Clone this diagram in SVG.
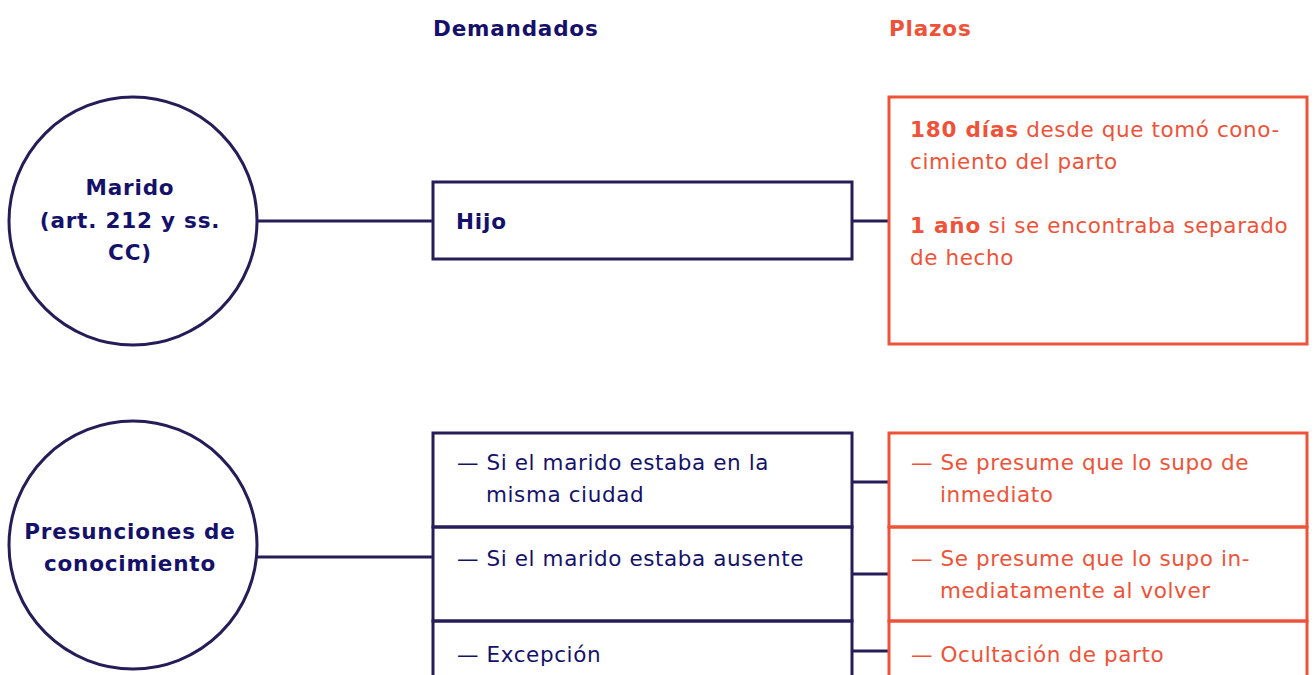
<svg xmlns="http://www.w3.org/2000/svg" width="1315" height="675" viewBox="0 0 1315 675">
<style>
.nv{fill:none;stroke:#261c58;stroke-width:3}
.or{fill:none;stroke:#ee5238;stroke-width:3}
.t{font-family:"DejaVu Sans","Liberation Sans",sans-serif;font-size:21.5px;letter-spacing:0.6px}
.tn{fill:#15116a}
.to{fill:#ef5238}
.b{font-weight:bold;letter-spacing:0.8px}
</style>
<rect width="1315" height="675" fill="#fff"/>
<text class="t b tn" x="433" y="36">Demandados</text>
<text class="t b to" x="889" y="36">Plazos</text>
<g id="connectors">
<line class="nv" x1="257" y1="221" x2="433" y2="221"/>
<line class="nv" x1="852" y1="221" x2="889" y2="221"/>
<line class="nv" x1="257" y1="557" x2="433" y2="557"/>
<line class="nv" x1="852" y1="482" x2="889" y2="482"/>
<line class="nv" x1="852" y1="574" x2="889" y2="574"/>
<line class="nv" x1="852" y1="651" x2="889" y2="651"/>
</g>
<g id="marido">
<circle class="nv" cx="133" cy="221" r="124" fill="#fff"/>
<text class="t b tn" text-anchor="middle"><tspan x="130" y="195">Marido</tspan><tspan x="130" y="228">(art. 212 y ss.</tspan><tspan x="130" y="260">CC)</tspan></text>
</g>
<g id="hijo">
<rect class="nv" x="433" y="182" width="419" height="77"/>
<text class="t b tn" x="456" y="229">Hijo</text>
</g>
<g id="plazo1">
<rect class="or" x="889" y="97" width="418" height="247"/>
<text class="t to"><tspan x="910" y="137"><tspan class="b">180 días</tspan> desde que tomó cono-</tspan><tspan x="910" y="169">cimiento del parto</tspan><tspan x="910" y="233"><tspan class="b">1 año</tspan> si se encontraba separado</tspan><tspan x="910" y="265">de hecho</tspan></text>
</g>
<g id="presunciones">
<circle class="nv" cx="133" cy="545" r="124" fill="#fff"/>
<text class="t b tn" text-anchor="middle"><tspan x="130" y="539">Presunciones de</tspan><tspan x="130" y="571">conocimiento</tspan></text>
</g>
<g id="demandados2">
<rect class="nv" x="433" y="433" width="419" height="94"/>
<rect class="nv" x="433" y="527" width="419" height="94"/>
<rect class="nv" x="433" y="621" width="419" height="94"/>
<text class="t tn"><tspan x="457" y="470">— Si el marido estaba en la</tspan><tspan x="486" y="502">misma ciudad</tspan></text>
<text class="t tn" x="457" y="566">— Si el marido estaba ausente</text>
<text class="t tn" x="457" y="662">— Excepción</text>
</g>
<g id="plazos2">
<rect class="or" x="889" y="433" width="418" height="94"/>
<rect class="or" x="889" y="527" width="418" height="94"/>
<rect class="or" x="889" y="621" width="418" height="94"/>
<text class="t to"><tspan x="911" y="470">— Se presume que lo supo de</tspan><tspan x="940" y="502">inmediato</tspan></text>
<text class="t to"><tspan x="911" y="566">— Se presume que lo supo in-</tspan><tspan x="940" y="598">mediatamente al volver</tspan></text>
<text class="t to" x="911" y="662">— Ocultación de parto</text>
</g>
</svg>
